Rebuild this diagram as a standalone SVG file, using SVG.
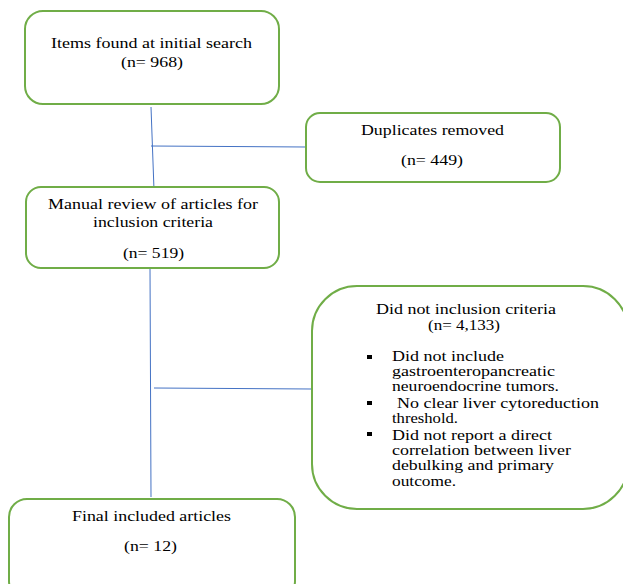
<svg xmlns="http://www.w3.org/2000/svg" width="623" height="584" viewBox="0 0 623 584">
<style>
.box{fill:#fff;stroke:#70ad47;stroke-width:2}
.t{font-family:"Liberation Serif","Times New Roman",serif;font-size:15px;fill:#000}
.ln{stroke:#4472c4;stroke-width:1;fill:none}
.b{fill:#000}
</style>
<rect width="623" height="584" fill="#fff"/>
<g id="connectors">
<line class="ln" x1="151" y1="107" x2="154" y2="190"/>
<line class="ln" x1="151" y1="146" x2="306" y2="147"/>
<line class="ln" x1="150" y1="268" x2="151" y2="497"/>
<line class="ln" x1="154" y1="388" x2="312" y2="389"/>
</g>
<g id="n1">
<rect class="box" x="25" y="11" width="254" height="93" rx="18"/>
<text class="t" x="51" y="48" textLength="201" lengthAdjust="spacingAndGlyphs">Items found at initial search</text>
<text class="t" x="121" y="67" textLength="62" lengthAdjust="spacingAndGlyphs">(n= 968)</text>
</g>
<g id="n2">
<rect class="box" x="306" y="113" width="254" height="69" rx="14"/>
<text class="t" x="361" y="135" textLength="143" lengthAdjust="spacingAndGlyphs">Duplicates removed</text>
<text class="t" x="401" y="165" textLength="62" lengthAdjust="spacingAndGlyphs">(n= 449)</text>
</g>
<g id="n3">
<rect class="box" x="26" y="187" width="253" height="81" rx="15"/>
<text class="t" x="48" y="209" textLength="210" lengthAdjust="spacingAndGlyphs">Manual review of articles for</text>
<text class="t" x="93" y="227" textLength="120" lengthAdjust="spacingAndGlyphs">inclusion criteria</text>
<text class="t" x="123" y="258" textLength="61" lengthAdjust="spacingAndGlyphs">(n= 519)</text>
</g>
<g id="n4">
<rect class="box" x="312" y="286" width="316" height="223" rx="45"/>
<text class="t" x="376" y="314" textLength="180" lengthAdjust="spacingAndGlyphs">Did not inclusion criteria</text>
<text class="t" x="428" y="330" textLength="72" lengthAdjust="spacingAndGlyphs">(n= 4,133)</text>
<rect class="b" x="367" y="355" width="5" height="4"/>
<rect class="b" x="367" y="401" width="5" height="4"/>
<rect class="b" x="367" y="432" width="5" height="4"/>
<text class="t" x="392" y="361" textLength="112" lengthAdjust="spacingAndGlyphs">Did not include</text>
<text class="t" x="392" y="376" textLength="163" lengthAdjust="spacingAndGlyphs">gastroenteropancreatic</text>
<text class="t" x="392" y="391" textLength="167" lengthAdjust="spacingAndGlyphs">neuroendocrine tumors.</text>
<text class="t" x="397" y="408" textLength="202" lengthAdjust="spacingAndGlyphs">No clear liver cytoreduction</text>
<text class="t" x="392" y="423" textLength="66" lengthAdjust="spacingAndGlyphs">threshold.</text>
<text class="t" x="392" y="440" textLength="160" lengthAdjust="spacingAndGlyphs">Did not report a direct</text>
<text class="t" x="392" y="455" textLength="179" lengthAdjust="spacingAndGlyphs">correlation between liver</text>
<text class="t" x="392" y="470" textLength="162" lengthAdjust="spacingAndGlyphs">debulking and primary</text>
<text class="t" x="392" y="486" textLength="64" lengthAdjust="spacingAndGlyphs">outcome.</text>
</g>
<g id="n5">
<rect class="box" x="9" y="499" width="286" height="100" rx="18"/>
<text class="t" x="72" y="521" textLength="159" lengthAdjust="spacingAndGlyphs">Final included articles</text>
<text class="t" x="124" y="551" textLength="53" lengthAdjust="spacingAndGlyphs">(n= 12)</text>
</g>
</svg>
